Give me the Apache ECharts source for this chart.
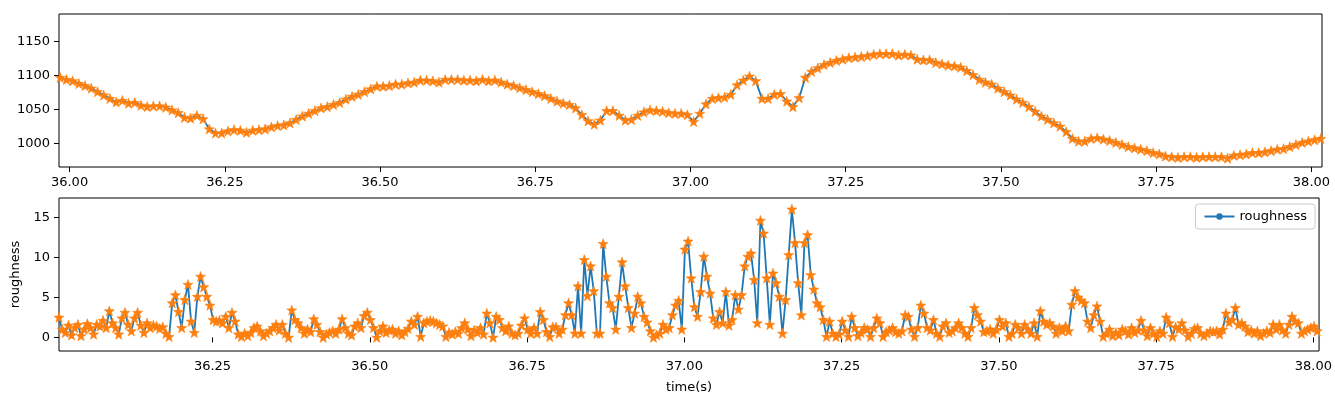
<!DOCTYPE html>
<html>
<head>
<meta charset="utf-8">
<script src="https://cdn.jsdelivr.net/npm/echarts@6/dist/echarts.min.js"></script>
<style>
  html, body { margin: 0; padding: 0; background: #fff; }
  #main { width: 1335px; height: 397px; }
</style>
</head>
<body>
<div id="main"></div>
<script>
// top panel: signal sampled every 10 ms starting at 35.985 s
var topStart = 35.985, topStep = 0.01;
var topValues = [
  1097, 1094, 1092, 1088, 1085, 1081, 1076, 1071, 1066, 1061,
  1063, 1059, 1060, 1056, 1054, 1055, 1055, 1053, 1049, 1045,
  1038, 1037, 1041, 1036, 1021, 1015, 1015, 1018, 1020, 1019,
  1016, 1019, 1020, 1021, 1024, 1026, 1027, 1030, 1035, 1040,
  1044, 1048, 1052, 1054, 1057, 1060, 1065, 1069, 1072, 1076,
  1080, 1084, 1084, 1085, 1087, 1087, 1089, 1090, 1093, 1093,
  1092, 1090, 1094, 1094, 1094, 1093, 1093, 1092, 1094, 1092,
  1093, 1090, 1087, 1085, 1082, 1079, 1076, 1073, 1070, 1066,
  1062, 1059, 1057, 1052, 1042, 1033, 1028, 1034, 1048, 1048,
  1041, 1034, 1035, 1041, 1046, 1049, 1048, 1047, 1045, 1044,
  1044, 1042, 1032, 1044, 1058, 1066, 1067, 1068, 1072, 1086,
  1093, 1099, 1092, 1066, 1066, 1072, 1073, 1062, 1054, 1067,
  1097, 1106, 1111, 1116, 1119, 1122, 1124, 1126, 1127, 1128,
  1129, 1131, 1132, 1132, 1132, 1130, 1131, 1130, 1124, 1123,
  1123, 1119, 1117, 1115, 1114, 1112, 1107, 1101, 1094, 1090,
  1087, 1081, 1076, 1071, 1065, 1060, 1054, 1047, 1040, 1035,
  1030, 1025, 1017, 1007, 1003, 1003, 1007, 1008, 1006, 1004,
  1001, 998, 995, 993, 991, 989, 986, 984, 981, 980,
  979, 980, 980, 979, 980, 980, 980, 980, 978, 982,
  983, 984, 986, 986, 987, 989, 991, 992, 995, 998,
  1001, 1003, 1005, 1007
];

// bottom panel: roughness sampled every 5 ms starting at 36.006 s
var roughStart = 36.006, roughStep = 0.005;
var roughness = [
  2.5, 1.0, 0.6, 1.5, 0.3, 1.2, 1.6, 0.2, 1.0, 1.7,
  1.2, 0.4, 1.6, 1.4, 2.1, 1.2, 3.3, 1.8, 1.2, 0.4,
  2.4, 3.1, 1.6, 0.8, 2.4, 3.1, 1.5, 0.6, 1.8, 1.2,
  1.5, 1.4, 1.1, 1.3, 0.5, 0.1, 4.3, 5.3, 3.2, 1.2,
  4.7, 6.6, 2.0, 0.6, 5.1, 7.6, 6.3, 5.1, 4.0, 2.2,
  2.0, 2.1, 1.8, 2.6, 1.2, 3.1, 2.0, 0.4, 0.1, 0.5,
  0.2, 0.6, 1.2, 1.4, 0.8, 0.2, 0.5, 0.8, 1.2, 1.6,
  0.9, 1.6, 0.5, 0.0, 3.4, 2.2, 1.8, 1.2, 0.5, 1.0,
  0.7, 2.3, 1.6, 0.7, 0.0, 0.4, 0.6, 0.8, 0.5, 1.0,
  2.3, 1.2, 0.5, 0.3, 1.4, 1.8, 1.2, 2.7, 3.1, 2.2,
  1.2, 0.0, 0.8, 1.4, 0.6, 0.9, 1.0, 0.5, 0.8, 0.3,
  0.7, 1.1, 2.0, 1.6, 2.6, 0.1, 1.8, 2.0, 2.1, 2.0,
  1.8, 1.6, 1.4, 0.1, 0.6, 0.4, 0.7, 0.5, 1.2, 1.8,
  1.0, 0.2, 0.9, 0.6, 1.2, 0.4, 3.0, 1.8, 0.0, 2.6,
  2.2, 1.2, 0.8, 1.4, 0.5, 0.3, 0.5, 1.5, 2.4, 1.0,
  0.5, 1.2, 0.5, 3.2, 2.2, 0.7, 0.1, 1.3, 1.3, 0.5,
  1.0, 2.8, 4.3, 2.8, 0.5, 6.4, 0.5, 9.7, 5.2, 8.9,
  5.8, 0.5, 0.5, 11.7, 7.6, 4.3, 3.7, 1.0, 5.1, 9.4,
  6.4, 3.7, 1.2, 3.0, 5.1, 4.3, 2.6, 1.9, 0.8, 0.0,
  0.3, 0.5, 1.6, 1.0, 1.2, 2.8, 4.0, 4.6, 1.0, 11.0,
  12.0, 7.4, 3.8, 2.6, 5.7, 10.1, 7.6, 5.5, 2.4, 1.6,
  3.2, 1.8, 5.7, 1.5, 2.2, 5.3, 3.5, 5.3, 8.9, 10.1,
  10.5, 7.2, 1.8, 14.6, 13.0, 7.4, 1.6, 8.0, 6.8, 5.1,
  0.5, 4.7, 10.3, 16.0, 11.8, 6.8, 2.8, 11.8, 12.8, 7.8,
  6.0, 4.3, 3.8, 2.2, 0.1, 2.0, 0.5, 0.1, 0.4, 2.0,
  0.9, 0.1, 2.6, 1.2, 0.2, 0.6, 1.2, 1.0, 0.1, 1.2,
  2.4, 1.8, 0.1, 0.7, 0.9, 1.2, 0.7, 0.5, 0.8, 2.8,
  2.6, 1.0, 0.1, 1.2, 4.0, 3.0, 1.2, 0.9, 2.2, 0.5,
  0.1, 1.4, 1.8, 0.6, 0.8, 1.2, 1.8, 1.2, 0.5, 0.1,
  1.2, 3.7, 2.8, 2.0, 0.7, 0.8, 1.0, 0.5, 1.0, 2.2,
  1.4, 1.8, 0.1, 0.5, 1.6, 1.2, 0.5, 1.6, 1.0, 0.5,
  1.8, 0.1, 3.3, 2.0, 1.6, 1.8, 1.4, 0.5, 1.2, 0.8,
  1.4, 0.8, 4.1, 5.8, 5.0, 4.6, 4.3, 2.0, 1.2, 2.8,
  3.9, 2.0, 0.1, 0.5, 1.0, 0.2, 0.6, 0.3, 1.0, 0.8,
  0.4, 1.2, 0.6, 0.9, 2.1, 0.9, 0.2, 1.2, 0.5, 0.1,
  0.8, 0.5, 2.5, 1.8, 0.1, 1.3, 1.0, 1.8, 0.9, 0.1,
  0.5, 1.1, 1.2, 0.5, 0.2, 0.5, 0.8, 0.7, 0.8, 0.4,
  1.0, 3.0, 1.9, 2.2, 3.7, 1.6, 1.8, 1.4, 0.7, 0.9,
  0.5, 0.8, 0.2, 0.5, 0.8, 0.6, 1.6, 1.0, 1.6, 0.9,
  0.5, 1.6, 2.6, 2.0, 1.8, 0.5, 0.8, 1.0, 1.2, 1.4,
  0.8
];

var timeTicks = [36.00, 36.25, 36.50, 36.75, 37.00, 37.25, 37.50, 37.75, 38.00];
var topTicks = [1000, 1050, 1100, 1150];
var roughTicks = [0, 5, 10, 15];

function pairs(start, step, values) {
  return values.map(function (v, i) {
    return [+(start + i * step).toFixed(3), v];
  });
}

var topData = pairs(topStart, topStep, topValues);
var roughData = pairs(roughStart, roughStep, roughness);

var blue = '#1f77b4';
var orange = '#ff7f0e';
var star = 'path://M0,-10 L2.35,-3.24 L9.51,-3.09 L3.8,1.24 L5.88,8.09 L0,4 L-5.88,8.09 L-3.8,1.24 L-9.51,-3.09 L-2.35,-3.24 Z';
var font = 'DejaVu Sans';

function xAxis(idx, min, max, name) {
  return {
    type: 'value', gridIndex: idx, min: min, max: max,
    name: name || '', nameLocation: 'middle', nameGap: 30,
    nameTextStyle: { color: '#000', fontSize: 13, fontFamily: font },
    axisLine: { show: false },
    axisTick: { show: true, length: 5, customValues: timeTicks, lineStyle: { color: '#000' } },
    axisLabel: {
      color: '#000', fontSize: 13, fontFamily: font, margin: 9,
      customValues: timeTicks,
      formatter: function (v) { return v.toFixed(2); }
    },
    splitLine: { show: false }
  };
}

function yAxis(idx, min, max, ticks, name) {
  return {
    type: 'value', gridIndex: idx, min: min, max: max,
    name: name || '', nameLocation: 'middle', nameGap: 31, nameRotate: 90,
    nameTextStyle: { color: '#000', fontSize: 13, fontFamily: font },
    axisLine: { show: false },
    axisTick: { show: true, length: 5, customValues: ticks, lineStyle: { color: '#000' } },
    axisLabel: {
      color: '#000', fontSize: 13, fontFamily: font, margin: 9, customValues: ticks,
      formatter: function (v) { return String(v); }
    },
    splitLine: { show: false }
  };
}

var myChart = echarts.init(document.getElementById('main'));
myChart.setOption({
  animation: false,
  backgroundColor: '#fff',
  grid: [
    { left: 59, top: 14, width: 1263, height: 153, show: true, borderColor: '#000', borderWidth: 1 },
    { left: 59, top: 198, width: 1263, height: 153, show: true, borderColor: '#000', borderWidth: 1 }
  ],
  xAxis: [
    xAxis(0, 35.983, 38.017),
    xAxis(1, 36.006, 38.009, 'time(s)')
  ],
  yAxis: [
    yAxis(0, 965, 1190.7, topTicks),
    yAxis(1, -1.7, 17.4, roughTicks, 'roughness')
  ],
  legend: {
    data: ['roughness'],
    right: 20, top: 204, z: 20,
    orient: 'vertical',
    padding: [6, 8, 6, 8],
    itemWidth: 30, itemHeight: 8, itemGap: 8,
    borderColor: '#ccc', borderWidth: 1, borderRadius: 3,
    backgroundColor: 'rgba(255,255,255,0.8)',
    textStyle: { color: '#000', fontSize: 13, fontFamily: font }
  },
  series: [
    {
      name: 'signal', type: 'line', xAxisIndex: 0, yAxisIndex: 0, z: 2,
      data: topData, symbol: 'circle', symbolSize: 4,
      lineStyle: { color: blue, width: 1.8 }, itemStyle: { color: blue }
    },
    {
      name: 'signal marks', type: 'scatter', xAxisIndex: 0, yAxisIndex: 0, z: 6,
      data: topData, symbol: star, symbolSize: 10,
      itemStyle: { color: orange, borderColor: orange, borderWidth: 0.6, opacity: 1 }
    },
    {
      name: 'roughness', type: 'line', xAxisIndex: 1, yAxisIndex: 1, z: 2,
      data: roughData, symbol: 'circle', symbolSize: 4,
      lineStyle: { color: blue, width: 1.8 }, itemStyle: { color: blue }
    },
    {
      name: 'roughness marks', type: 'scatter', xAxisIndex: 1, yAxisIndex: 1, z: 6,
      data: roughData, symbol: star, symbolSize: 10,
      itemStyle: { color: orange, borderColor: orange, borderWidth: 0.6, opacity: 1 }
    }
  ]
});
</script>
</body>
</html>
